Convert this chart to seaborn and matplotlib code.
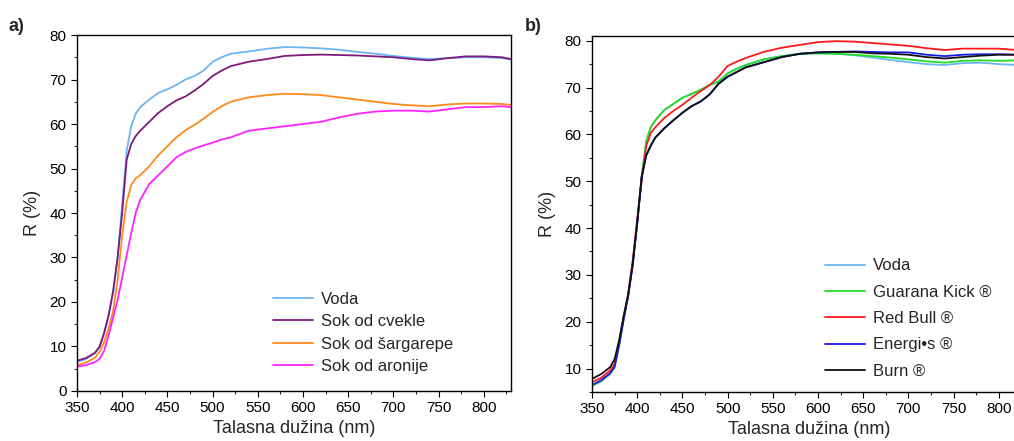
import numpy as np
import pandas as pd
import seaborn as sns
import matplotlib
matplotlib.use("Agg")
import matplotlib.pyplot as plt
from matplotlib.ticker import MultipleLocator

# ---------------- data ----------------
wl_a = [350, 360, 370, 375, 380, 385, 390, 395, 400, 405, 410, 415, 420, 430, 440, 450,
        460, 470, 480, 490, 500, 510, 520, 540, 560, 580, 600, 620, 640, 660, 680, 700,
        720, 740, 760, 780, 800, 820, 830]
voda_a = [6.5, 7.2, 8.5, 9.8, 13, 17, 22, 30, 42, 54, 59.5, 62.3, 63.8, 65.5, 67, 67.8,
          68.8, 70, 70.8, 72, 74, 75, 75.8, 76.3, 76.9, 77.3, 77.2, 77, 76.7, 76.2, 75.8, 75.3,
          74.9, 74.6, 74.8, 75, 75, 74.8, 74.5]
cvekla_a = [6.8, 7.4, 8.6, 10, 13, 17, 22.5, 30, 40, 52, 55.5, 57.3, 58.5, 60.5, 62.5, 64,
            65.3, 66.2, 67.5, 69, 70.8, 72, 73, 74, 74.6, 75.3, 75.5, 75.6, 75.5, 75.4, 75.2, 75,
            74.6, 74.3, 74.8, 75.2, 75.2, 75, 74.6]
sargarepa_a = [5.8, 6.4, 7.5, 8.8, 11, 14, 18, 25, 35, 42.5, 46.3, 47.8, 48.5, 50.5, 53, 55,
               57, 58.6, 59.8, 61.2, 62.7, 64, 65, 66, 66.5, 66.8, 66.7, 66.5, 66, 65.5, 65, 64.5,
               64.2, 64, 64.4, 64.6, 64.6, 64.5, 64.3]
aronija_a = [5.5, 5.8, 6.5, 7.2, 9, 12.5, 16.5, 20.5, 25.5, 30.5, 35.5, 40, 43, 46.5, 48.5, 50.5,
             52.5, 53.7, 54.5, 55.2, 55.8, 56.5, 57, 58.5, 59, 59.5, 60, 60.5, 61.5, 62.3, 62.8, 63,
             63, 62.8, 63.3, 63.8, 63.8, 64, 63.8]

wl_b = [350, 360, 370, 375, 380, 385, 390, 395, 400, 405, 410, 415, 420, 430, 440, 450,
        460, 470, 480, 490, 500, 510, 520, 540, 560, 580, 600, 620, 640, 660, 680, 700,
        720, 740, 760, 780, 800, 820, 833]
voda_b = [6.3, 7.2, 8.8, 10.5, 15, 20.5, 25.5, 32.5, 41, 51, 58.5, 61.5, 63, 65.2, 66.5, 67.8,
          68.6, 69.5, 70.5, 71.3, 73, 74, 74.8, 76, 76.7, 77.2, 77.3, 77.2, 76.9, 76.4, 75.9, 75.4,
          75, 74.8, 75.2, 75.3, 75, 74.8, 74.5]
guarana_b = [6.4, 7.3, 8.9, 10.5, 15, 20.5, 25.5, 32.5, 41, 51, 58.5, 61.5, 63, 65.2, 66.5, 67.8,
             68.6, 69.5, 70.5, 71.3, 73, 74, 74.8, 76, 76.7, 77.2, 77.3, 77.2, 77, 76.7, 76.4, 76,
             75.6, 75.3, 75.7, 75.8, 75.7, 75.8, 75.8]
redbull_b = [7.1, 8.0, 9.6, 11, 15.5, 21, 26, 33, 42, 50, 57.5, 60.3, 61.5, 63.5, 65, 66.3,
             67.8, 69.2, 70.5, 72.3, 74.6, 75.5, 76.3, 77.6, 78.5, 79.1, 79.7, 79.9, 79.8, 79.5, 79.2, 78.9,
             78.4, 78, 78.3, 78.3, 78.3, 78, 78]
energis_b = [6.5, 7.5, 9, 10.3, 15, 20.5, 25.5, 32, 41, 51, 55.5, 57.6, 59.3, 61.3, 63, 64.6,
             66, 67, 68.5, 70.8, 72.3, 73.3, 74.3, 75.4, 76.5, 77.2, 77.5, 77.6, 77.7, 77.6, 77.5, 77.5,
             77, 76.7, 77, 77.1, 77.1, 77, 77]
burn_b = [7.8, 8.8, 10.3, 12, 16, 21.2, 25.7, 32.2, 41, 51, 55.5, 57.6, 59.3, 61.3, 63, 64.6,
          66, 67, 68.5, 70.8, 72.3, 73.3, 74.3, 75.4, 76.5, 77.2, 77.5, 77.6, 77.6, 77.3, 77.2, 77,
          76.5, 76.2, 76.5, 76.8, 77, 77, 77]

labels_a = ["Voda", "Sok od cvekle", "Sok od šargarepe", "Sok od aronije"]
labels_b = ["Voda", "Guarana Kick ®", "Red Bull ®", "Energi•s ®", "Burn ®"]
colors_a = ["#6cb4f2", "#7d1a7d", "#ff8a1c", "#ff22ff"]
colors_b = ["#6cb4f2", "#22dd22", "#ff1a1a", "#1a1ae6", "#111111"]

# ---------------- style ----------------
sns.set_theme(style="ticks")
plt.rcParams["font.family"] = ["Liberation Sans", "DejaVu Sans"]
plt.rcParams["axes.linewidth"] = 1.0

fig = plt.figure(figsize=(10.14, 4.41), dpi=100)
ax_a = fig.add_axes([0.0759, 0.1134, 0.428, 0.8072])
ax_b = fig.add_axes([0.5838, 0.1111, 0.428, 0.8073])


def style_axis(ax):
    for s in ["top", "right", "left", "bottom"]:
        ax.spines[s].set_visible(True)
        ax.spines[s].set_color("black")
        ax.spines[s].set_linewidth(1.0)
    ax.xaxis.set_major_locator(MultipleLocator(50))
    ax.xaxis.set_minor_locator(MultipleLocator(25))
    ax.yaxis.set_major_locator(MultipleLocator(10))
    ax.yaxis.set_minor_locator(MultipleLocator(5))
    ax.tick_params(which="major", direction="out", length=4, width=0.8,
                   labelsize=11, colors="black", top=False, right=False)
    ax.tick_params(which="minor", direction="out", length=2.5, width=0.8,
                   top=False, right=False)
    ax.set_xlabel("Talasna dužina (nm)", fontsize=13, labelpad=3)
    ax.set_ylabel("R (%)", fontsize=13, labelpad=6)
    ax.grid(False)


for vals, lab, col in zip([voda_a, cvekla_a, sargarepa_a, aronija_a], labels_a, colors_a):
    sns.lineplot(x=wl_a, y=vals, ax=ax_a, color=col, label=lab, linewidth=1.3)
for vals, lab, col in zip([voda_b, guarana_b, redbull_b, energis_b, burn_b], labels_b, colors_b):
    sns.lineplot(x=wl_b, y=vals, ax=ax_b, color=col, label=lab, linewidth=1.3)

ax_a.set_xlim(350, 830)
ax_a.set_ylim(0, 80)
ax_b.set_xlim(350, 830)
ax_b.set_ylim(5, 81)
style_axis(ax_a)
style_axis(ax_b)

ax_a.legend(loc="center left", bbox_to_anchor=(0.452, 0.163), frameon=False,
            fontsize=12, handlelength=2.4, handletextpad=0.45, labelspacing=0.45,
            borderpad=0, borderaxespad=0)
ax_b.legend(loc="center left", bbox_to_anchor=(0.537, 0.206), frameon=False,
            fontsize=12, handlelength=2.4, handletextpad=0.45, labelspacing=0.68,
            borderpad=0, borderaxespad=0)

fig.text(0.008, 0.94, "a)", fontsize=13, fontweight="bold", va="center", ha="left")
fig.text(0.518, 0.94, "b)", fontsize=13, fontweight="bold", va="center", ha="left")

fig.savefig("out.png", dpi=100)
